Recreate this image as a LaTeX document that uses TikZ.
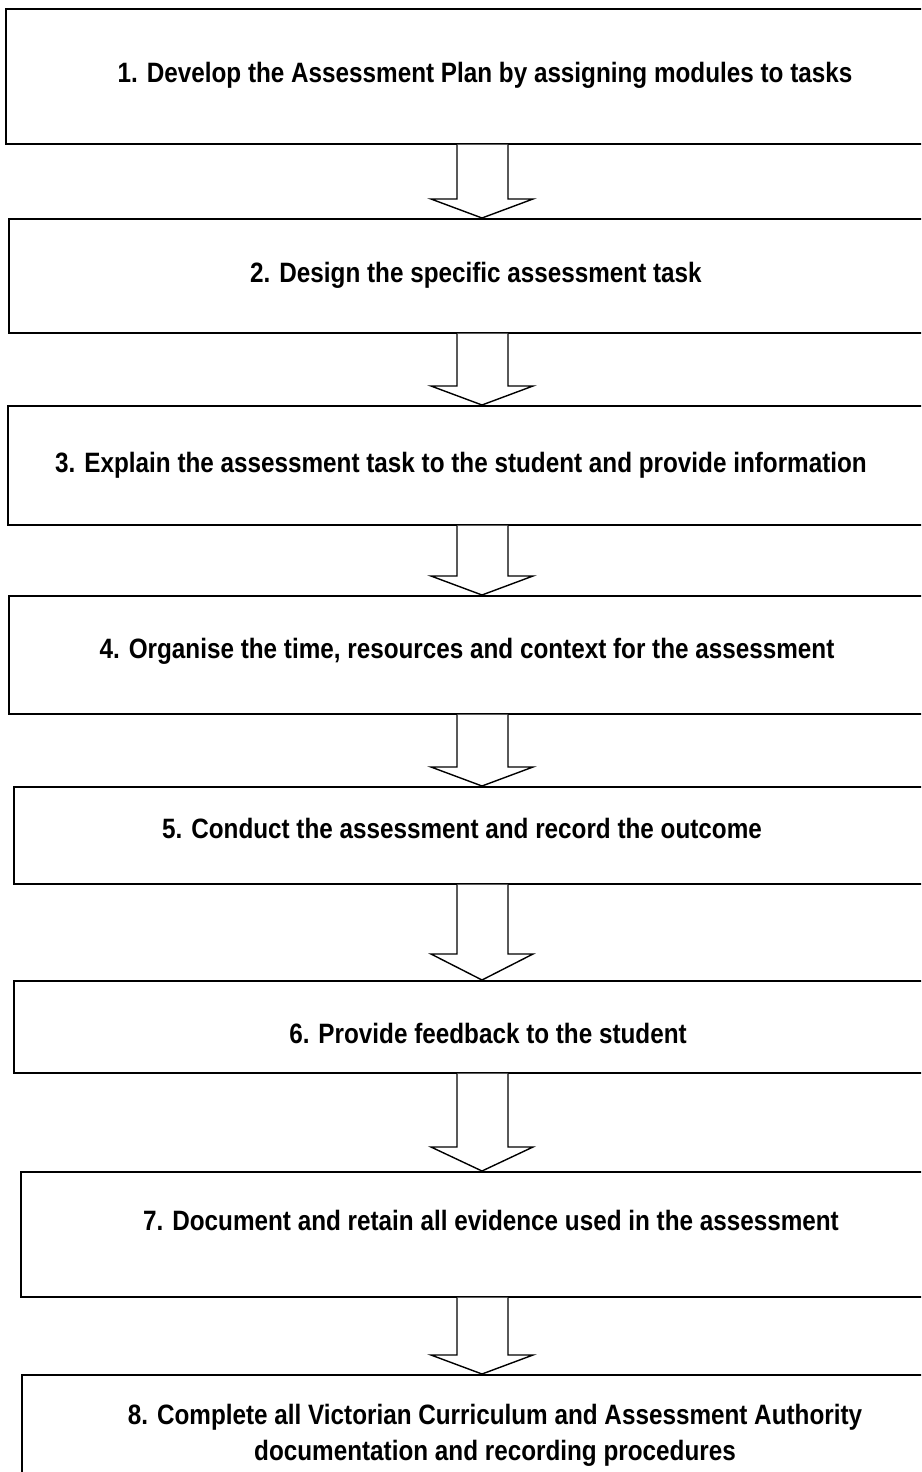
\documentclass[tikz,border=0pt]{standalone}
\usepackage{fontspec}
\setmainfont[FakeStretch=0.867]{Liberation Sans}
\usetikzlibrary{calc}
\tikzset{
  box/.style={draw=black, line width=1.6pt, fill=white, anchor=north west, inner sep=0pt},
  label/.style={font=\fontsize{28pt}{36pt}\selectfont\bfseries, align=center, inner sep=0pt},
  blockarrow/.style={draw=black, line width=1.4pt, fill=white, line join=miter}
}
\newcommand{\blockarr}[3]{%
  \path let \p1=(#1.south), \p2=(#2.north) in
    [blockarrow] (457pt,\y1) -- (457pt,\y2+#3pt) -- (431pt,\y2+#3pt) -- (482pt,\y2)
    -- (533pt,\y2+#3pt) -- (508pt,\y2+#3pt) -- (508pt,\y1);
}
\begin{document}
\begin{tikzpicture}[x=1pt,y=-1pt]
\useasboundingbox (0,0) rectangle (921,1472);
\clip (0,0) rectangle (921,1472);
\node[box, minimum width=960pt, minimum height=135pt] (b1) at (5,8) {};
\node[box, minimum width=957pt, minimum height=114pt] (b2) at (8,218) {};
\node[box, minimum width=957pt, minimum height=119pt] (b3) at (7,405) {};
\node[box, minimum width=957pt, minimum height=118pt] (b4) at (8,595) {};
\node[box, minimum width=952pt, minimum height=97pt] (b5) at (13,786) {};
\node[box, minimum width=952pt, minimum height=92pt] (b6) at (13,980) {};
\node[box, minimum width=945pt, minimum height=125pt] (b7) at (20,1171) {};
\node[box, minimum width=945pt, minimum height=125pt] (b8) at (21,1374) {};
\node[label] (t1) at (485,75) {1. Develop the Assessment Plan by assigning modules to tasks};
\node[label] (t2) at (476,275) {2. Design the specific assessment task};
\node[label] (t3) at (461,465) {3. Explain the assessment task to the student and provide information};
\node[label] (t4) at (467,651) {4. Organise the time, resources and context for the assessment};
\node[label] (t5) at (462,828) {5. Conduct the assessment and record the outcome};
\node[label] (t6) at (488,1033) {6. Provide feedback to the student};
\node[label] (t7) at (491,1220) {7. Document and retain all evidence used in the assessment};
\node[label] (t8) at (495,1435) {8. Complete all Victorian Curriculum and Assessment Authority\\documentation and recording procedures};
\blockarr{b1}{b2}{19}
\blockarr{b2}{b3}{19}
\blockarr{b3}{b4}{19}
\blockarr{b4}{b5}{19}
\blockarr{b5}{b6}{26}
\blockarr{b6}{b7}{24}
\blockarr{b7}{b8}{19}
\end{tikzpicture}
\end{document}
